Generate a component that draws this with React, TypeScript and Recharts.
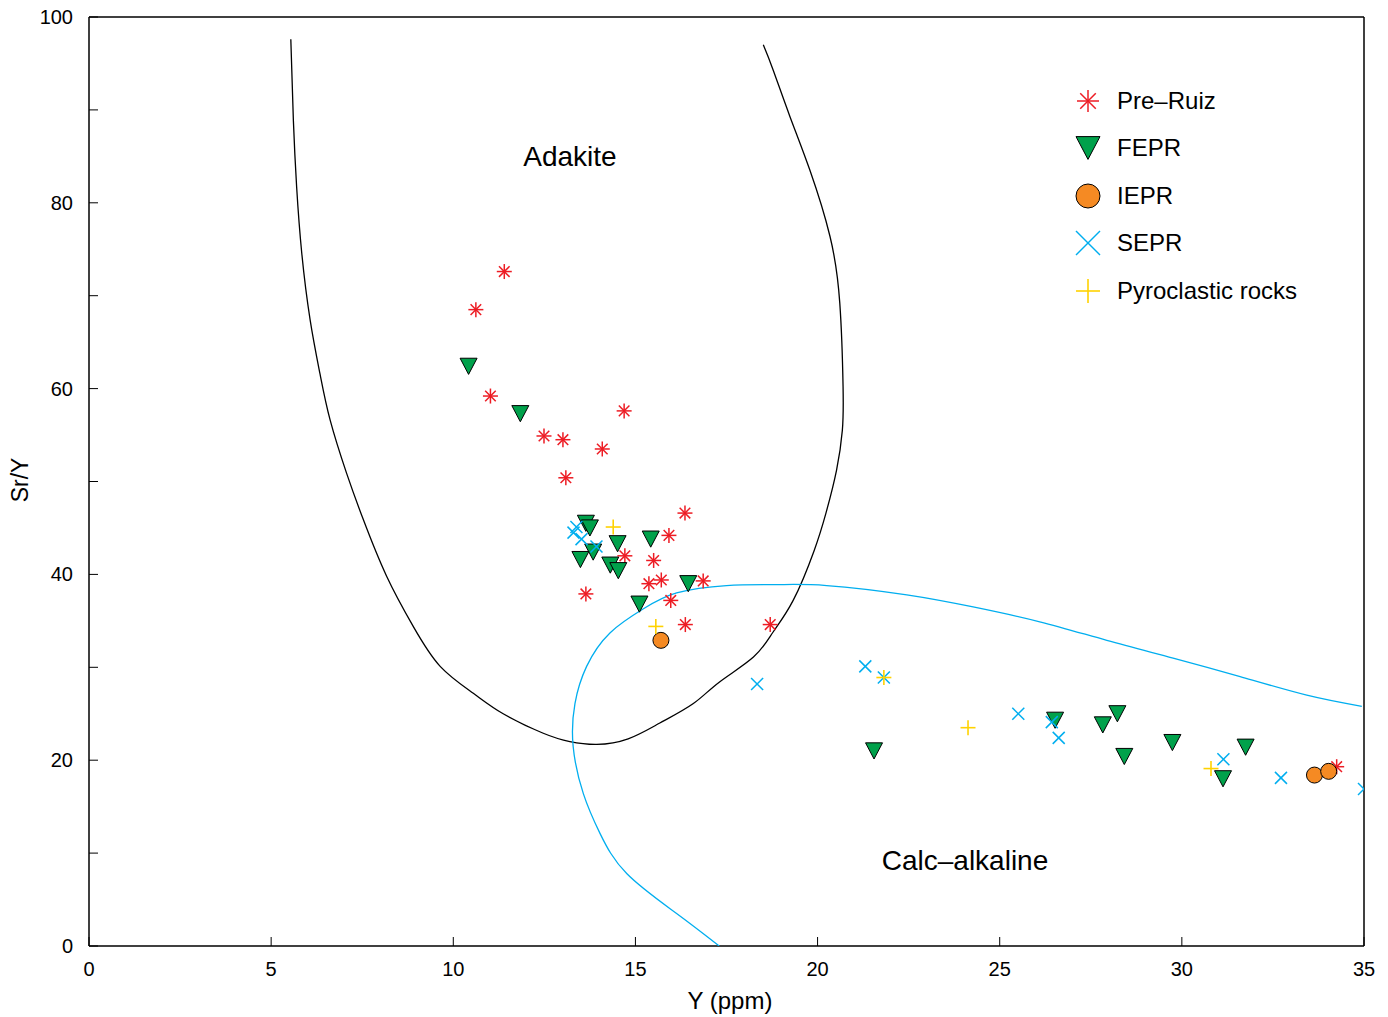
import React from 'react';
import { ScatterChart, Scatter, XAxis, YAxis, ReferenceLine } from 'recharts';

// Y (ppm), Sr/Y pairs
const preRuiz = [[11.40, 72.6], [10.62, 68.5], [11.02, 59.2], [14.69, 57.6], [12.49, 54.9], [13.01, 54.5], [14.09, 53.5], [13.09, 50.4], [16.36, 46.6], [15.92, 44.2], [14.71, 42.0], [15.50, 41.5], [15.71, 39.4], [15.37, 39.0], [16.86, 39.3], [13.64, 37.9], [15.97, 37.2], [16.37, 34.6], [18.70, 34.6], [34.25, 19.3]];
const fepr = [[10.42, 62.4], [11.84, 57.3], [13.64, 45.5], [13.75, 45.0], [13.84, 42.4], [13.49, 41.6], [14.51, 43.3], [15.42, 43.8], [14.31, 41.0], [14.53, 40.4], [16.45, 39.0], [15.11, 36.8], [21.55, 21.0], [26.52, 24.3], [28.23, 25.0], [27.83, 23.8], [28.42, 20.4], [29.74, 21.9], [31.75, 21.4], [31.13, 18.0]];
const iepr = [[15.70, 32.9], [33.64, 18.4], [34.03, 18.8]];
const sepr = [[13.38, 45.1], [13.30, 44.5], [13.52, 43.8], [13.93, 43.0], [18.34, 28.2], [21.31, 30.1], [21.82, 28.9], [25.51, 25.0], [26.43, 24.1], [26.62, 22.4], [31.14, 20.1], [32.72, 18.1], [35.0, 16.9]];
const pyroclastic = [[14.39, 45.1], [15.56, 34.4], [21.82, 28.9], [24.13, 23.5], [30.80, 19.1]];

// field boundaries
const adakiteField = [[5.54, 97.6], [5.61, 88.9], [5.70, 81.7], [5.84, 74.6], [6.07, 67.4], [6.34, 61.6], [6.62, 56.6], [7.07, 50.9], [7.53, 45.9], [8.17, 39.8], [8.90, 34.4], [9.64, 30.1], [10.55, 27.2], [11.37, 25.0], [12.47, 22.9], [13.20, 22.0], [13.94, 21.7], [14.80, 22.3], [15.67, 24.0], [16.59, 26.1], [17.30, 28.4], [18.24, 31.1], [18.78, 33.8], [19.33, 37.2], [19.90, 42.5], [20.23, 46.6], [20.52, 51.2], [20.68, 55.5], [20.70, 60.2], [20.61, 69.2], [20.34, 76.4], [19.79, 83.5], [19.24, 89.3], [18.78, 94.3], [18.51, 97.0]];
const calcAlkalineField = [[17.30, 0], [16.13, 3.5], [14.76, 7.8], [14.03, 12.1], [13.57, 16.4], [13.29, 21.5], [13.34, 26.1], [13.66, 30.1], [14.30, 33.7], [15.22, 36.3], [16.13, 38.0], [17.50, 38.8], [18.88, 38.9], [20.25, 38.8], [22.45, 37.8], [24.27, 36.5], [26.10, 34.9], [27.94, 32.9], [29.76, 31.0], [31.60, 29.0], [33.43, 27.0], [34.94, 25.8]];

const xTicks = [0, 5, 10, 15, 20, 25, 30, 35];
const yTicks = [0, 10, 20, 30, 40, 50, 60, 70, 80, 90, 100];

const toPoints = (arr: number[][]) => arr.map(([x, y]) => ({ x, y }));

const RED = '#ed1c24';
const GREEN = '#00a14b';
const ORANGE = '#f58a23';
const CYAN = '#00aeef';
const YELLOW = '#ffd200';
const FONT = '"Liberation Sans", Arial, Helvetica, sans-serif';

function Asterisk({ cx, cy, s = 7.5 }: any) {
  const d = s * 0.707;
  return <g stroke={RED} strokeWidth={1.5}>
      <line x1={cx - s} y1={cy} x2={cx + s} y2={cy} />
      <line x1={cx} y1={cy - s} x2={cx} y2={cy + s} />
      <line x1={cx - d} y1={cy - d} x2={cx + d} y2={cy + d} />
      <line x1={cx - d} y1={cy + d} x2={cx + d} y2={cy - d} />
    </g>;
}

function Triangle({ cx, cy, s = 8.5 }: any) {
  const h = s * 0.95;
  return <polygon points={`${cx - s},${cy - h} ${cx + s},${cy - h} ${cx},${cy + h}`} fill={GREEN} stroke="#000" strokeWidth={1} strokeLinejoin="round" />;
}

function Circle({ cx, cy, s = 8 }: any) {
  return <circle cx={cx} cy={cy} r={s} fill={ORANGE} stroke="#000" strokeWidth={1} />;
}

function Cross({ cx, cy, s = 6 }: any) {
  return <g stroke={CYAN} strokeWidth={1.5}>
      <line x1={cx - s} y1={cy - s} x2={cx + s} y2={cy + s} />
      <line x1={cx - s} y1={cy + s} x2={cx + s} y2={cy - s} />
    </g>;
}

function Plus({ cx, cy, s = 7.5 }: any) {
  return <g stroke={YELLOW} strokeWidth={1.6}>
      <line x1={cx - s} y1={cy} x2={cx + s} y2={cy} />
      <line x1={cx} y1={cy - s} x2={cx} y2={cy + s} />
    </g>;
}

const legendItems = [{
  name: 'Pre\u2013Ruiz',
  Marker: Asterisk,
  size: 11
}, {
  name: 'FEPR',
  Marker: Triangle,
  size: 12
}, {
  name: 'IEPR',
  Marker: Circle,
  size: 12
}, {
  name: 'SEPR',
  Marker: Cross,
  size: 12
}, {
  name: 'Pyroclastic rocks',
  Marker: Plus,
  size: 12
}];

function LegendBox() {
  return <div style={{ position: 'absolute', left: 1072, top: 77, fontFamily: FONT, fontSize: 24 }}>
      {legendItems.map(({ name, Marker, size }) => <div key={name} style={{ height: 47.5, display: 'flex', alignItems: 'center' }}>
          <svg width={32} height={32}><Marker cx={16} cy={16} s={size} /></svg>
          <span style={{ marginLeft: 13, color: '#000' }}>{name}</span>
        </div>)}
    </div>;
}

function YTick({ x, y, payload }: any) {
  const v = payload.value;
  return <g>
      <line x1={x + 16} x2={x + 25} y1={y} y2={y} stroke="#000" strokeWidth={1} />
      {v % 20 === 0 && <text x={x} y={y} textAnchor="end" dominantBaseline="central" fontSize={20} fontFamily={FONT} fill="#000">{v}</text>}
    </g>;
}

function XTick({ x, y, payload }: any) {
  return <g>
      <line x1={x} x2={x} y1={y - 16} y2={y - 25} stroke="#000" strokeWidth={1} />
      <text x={x} y={y} dy="0.71em" textAnchor="middle" fontSize={20} fontFamily={FONT} fill="#000">{payload.value}</text>
    </g>;
}

const noDot = () => <g />;

export default function App() {
  return <div style={{ position: 'absolute', left: 0, top: 0, width: 1388, height: 1017, background: '#fff' }}>
      <ScatterChart width={1388} height={1017} margin={{ top: 17, right: 24, bottom: 70, left: 88 }} style={{ fontFamily: FONT }}>
        <XAxis type="number" dataKey="x" domain={[0, 35]} ticks={xTicks} height={1} tickSize={0} tickMargin={16} tick={<XTick />} axisLine={{ stroke: '#000', strokeWidth: 1.5 }} allowDataOverflow />
        <YAxis type="number" dataKey="y" domain={[0, 100]} ticks={yTicks} width={1} tickSize={0} tickMargin={16} tick={<YTick />} axisLine={{ stroke: '#000', strokeWidth: 1.5 }} allowDataOverflow />
        <ReferenceLine y={100} stroke="#000" strokeWidth={1.5} />
        <ReferenceLine x={35} stroke="#000" strokeWidth={1.5} />
        <Scatter data={toPoints(adakiteField)} line={{ stroke: '#000', strokeWidth: 1.3 }} lineJointType="natural" shape={noDot} isAnimationActive={false} legendType="none" />
        <Scatter data={toPoints(calcAlkalineField)} line={{ stroke: CYAN, strokeWidth: 1.3 }} lineJointType="natural" shape={noDot} isAnimationActive={false} legendType="none" />
        <Scatter name="Pre–Ruiz" data={toPoints(preRuiz)} shape={(p: any) => <Asterisk cx={p.cx} cy={p.cy} />} isAnimationActive={false} />
        <Scatter name="FEPR" data={toPoints(fepr)} shape={(p: any) => <Triangle cx={p.cx} cy={p.cy} />} isAnimationActive={false} />
        <Scatter name="IEPR" data={toPoints(iepr)} shape={(p: any) => <Circle cx={p.cx} cy={p.cy} />} isAnimationActive={false} />
        <Scatter name="SEPR" data={toPoints(sepr)} shape={(p: any) => <Cross cx={p.cx} cy={p.cy} />} isAnimationActive={false} />
        <Scatter name="Pyroclastic rocks" data={toPoints(pyroclastic)} shape={(p: any) => <Plus cx={p.cx} cy={p.cy} />} isAnimationActive={false} />
        <text x={570} y={156} textAnchor="middle" dominantBaseline="central" fontSize={28} fontFamily={FONT}>Adakite</text>
        <text x={965} y={860} textAnchor="middle" dominantBaseline="central" fontSize={28} fontFamily={FONT}>Calc{'\u2013'}alkaline</text>
        <text x={730} y={1000} textAnchor="middle" dominantBaseline="central" fontSize={24} fontFamily={FONT}>Y (ppm)</text>
        <text transform="translate(20,480) rotate(-90)" textAnchor="middle" dominantBaseline="central" fontSize={23} fontFamily={FONT}>Sr/Y</text>
      </ScatterChart>
      <LegendBox />
    </div>;
}
